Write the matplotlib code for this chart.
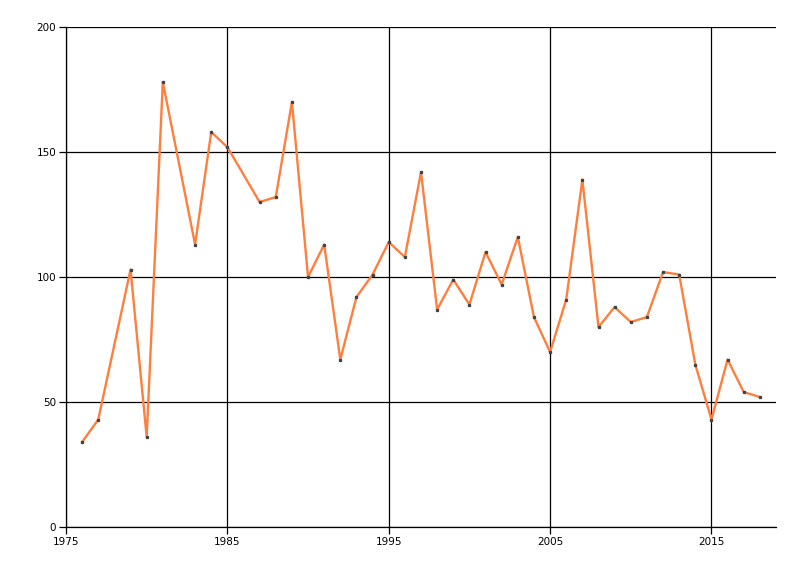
import matplotlib
matplotlib.use('Agg')
import matplotlib.pyplot as plt

# anos e valores
anos = [1976, 1977, 1979, 1980, 1981, 1983, 1984, 1985, 1987, 1988,
        1989, 1990, 1991, 1992, 1993, 1994, 1995, 1996, 1997, 1998,
        1999, 2000, 2001, 2002, 2003, 2004, 2005, 2006, 2007, 2008,
        2009, 2010, 2011, 2012, 2013, 2014, 2015, 2016, 2017, 2018]
valores = [34, 43, 103, 36, 178, 113, 158, 152, 130, 132,
           170, 100, 113, 67, 92, 101, 114, 108, 142, 87,
           99, 89, 110, 97, 116, 84, 70, 91, 139, 80,
           88, 82, 84, 102, 101, 65, 43, 67, 54, 52]
ticks_x = [1975, 1985, 1995, 2005, 2015]
ticks_y = [0, 50, 100, 150, 200]

fig = plt.figure(figsize=(8, 5.76), dpi=100)
ax = fig.add_axes([0.0825, 0.085, 0.8875, 0.868])

ax.plot(anos, valores, color='#ff7f3f', linewidth=1.7, zorder=3)
ax.plot(anos, valores, linestyle='none', marker='s', markersize=1.4,
        color='#444444', zorder=4)

ax.set_xlim(1975, 2019)
ax.set_ylim(0, 200)
ax.set_xticks(ticks_x)
ax.set_yticks(ticks_y)
ax.grid(True, color='black', linewidth=0.9)
ax.set_axisbelow(True)

for lado in ['top', 'right']:
    ax.spines[lado].set_visible(False)
for lado in ['left', 'bottom']:
    ax.spines[lado].set_linewidth(0.9)

ax.tick_params(axis='both', direction='out', length=5, width=0.9,
               labelsize=7.5, colors='black', pad=2)

plt.savefig('out.png', dpi=100)
